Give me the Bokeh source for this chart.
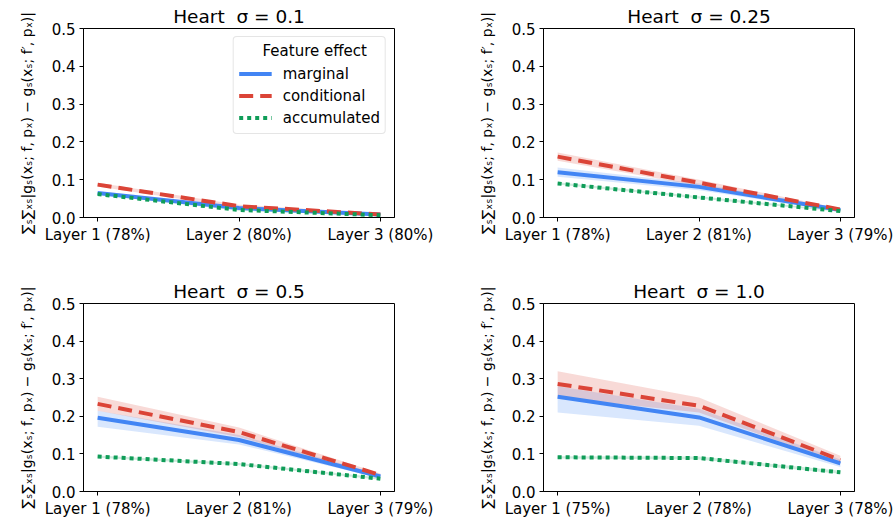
from bokeh.plotting import figure
from bokeh.layouts import column, row
from bokeh.models import Range1d, FixedTicker, Legend, LegendItem, NumeralTickFormatter
from bokeh.embed import file_html
from bokeh.resources import INLINE

sigmas = ["0.1", "0.25", "0.5", "1.0"]
layer_labels = [
    ["Layer 1 (78%)", "Layer 2 (80%)", "Layer 3 (80%)"],
    ["Layer 1 (78%)", "Layer 2 (81%)", "Layer 3 (79%)"],
    ["Layer 1 (78%)", "Layer 2 (81%)", "Layer 3 (79%)"],
    ["Layer 1 (75%)", "Layer 2 (78%)", "Layer 3 (78%)"],
]

marginal = [[0.065, 0.025, 0.008], [0.120, 0.081, 0.020], [0.196, 0.137, 0.040], [0.252, 0.197, 0.075]]
marginal_lo = [[0.062, 0.022, 0.006], [0.108, 0.072, 0.016], [0.172, 0.125, 0.035], [0.210, 0.175, 0.065]]
marginal_hi = [[0.068, 0.028, 0.010], [0.132, 0.090, 0.024], [0.215, 0.150, 0.045], [0.280, 0.220, 0.085]]

conditional = [[0.087, 0.030, 0.008], [0.161, 0.092, 0.021], [0.233, 0.158, 0.044], [0.286, 0.228, 0.084]]
conditional_lo = [[0.082, 0.026, 0.006], [0.150, 0.084, 0.018], [0.215, 0.145, 0.040], [0.250, 0.210, 0.075]]
conditional_hi = [[0.092, 0.034, 0.010], [0.172, 0.100, 0.024], [0.252, 0.170, 0.048], [0.320, 0.250, 0.095]]

accumulated = [[0.062, 0.020, 0.006], [0.090, 0.053, 0.017], [0.093, 0.073, 0.034], [0.091, 0.089, 0.051]]
accumulated_lo = [[0.060, 0.018, 0.005], [0.087, 0.050, 0.015], [0.090, 0.070, 0.031], [0.088, 0.085, 0.047]]
accumulated_hi = [[0.064, 0.022, 0.007], [0.093, 0.056, 0.019], [0.096, 0.076, 0.037], [0.094, 0.093, 0.055]]

y_ticks = [0.0, 0.1, 0.2, 0.3, 0.4, 0.5]
ylabel = "∑ₛ∑ₓₛ|gₛ(xₛ; f, pₓ) − gₛ(xₛ; f′, pₓ)|"
legend_title = "\u00a0\u00a0\u00a0\u00a0\u00a0Feature effect"

BLUE = "#4285F4"
RED = "#DB4437"
GREEN = "#0F9D58"
FONT = "DejaVu Sans"


def make(i):
    labels = layer_labels[i]
    xs = list(range(len(labels)))
    top_row = i < 2
    left_col = i % 2 == 0
    p = figure(
        frame_width=311,
        frame_height=189 if top_row else 188,
        x_range=Range1d(-0.1, len(labels) - 0.9),
        y_range=Range1d(0, 0.5),
        output_backend="svg",
        toolbar_location=None,
        min_border_left=83 if left_col else 96,
        min_border_right=53 if left_col else 40,
        min_border_top=28 if top_row else 40,
        min_border_bottom=46 if top_row else 30,
        title="Heart\u00a0\u00a0σ = " + sigmas[i],
    )
    p.title.align = "center"
    p.title.text_font = FONT
    p.title.text_font_size = "18.5px"
    p.title.text_font_style = "normal"
    p.title.text_color = "black"
    p.title.standoff = 3
    p.grid.visible = False
    p.outline_line_color = "black"
    p.outline_line_width = 1
    p.outline_line_alpha = 1

    for ax in (p.xaxis[0], p.yaxis[0]):
        ax.major_label_text_font = FONT
        ax.major_label_text_font_size = "15px"
        ax.major_label_text_color = "black"
        ax.axis_line_color = "black"
        ax.major_tick_line_color = "black"
        ax.major_tick_out = 4
        ax.major_tick_in = 0
        ax.minor_tick_line_color = None
        ax.major_label_standoff = 4
    p.xaxis.ticker = FixedTicker(ticks=xs)
    p.xaxis.major_label_overrides = {x: lab for x, lab in zip(xs, labels)}
    p.yaxis.ticker = FixedTicker(ticks=y_ticks)
    p.yaxis.formatter = NumeralTickFormatter(format="0.0")
    p.yaxis.axis_label = ylabel
    p.yaxis.axis_label_text_font = FONT
    p.yaxis.axis_label_text_font_size = "14px"
    p.yaxis.axis_label_text_font_style = "normal"
    p.yaxis.axis_label_text_color = "black"
    p.yaxis.axis_label_standoff = 14

    p.varea(x=xs, y1=marginal_lo[i], y2=marginal_hi[i], fill_color=BLUE, fill_alpha=0.2)
    p.varea(x=xs, y1=conditional_lo[i], y2=conditional_hi[i], fill_color=RED, fill_alpha=0.2)
    p.varea(x=xs, y1=accumulated_lo[i], y2=accumulated_hi[i], fill_color=GREEN, fill_alpha=0.2)

    r1 = p.line(xs, marginal[i], line_color=BLUE, line_width=4)
    r2 = p.line(xs, conditional[i], line_color=RED, line_width=4, line_dash="14 7")
    r3 = p.line(xs, accumulated[i], line_color=GREEN, line_width=4, line_dash="4 4")

    if i == 0:
        leg = Legend(
            items=[LegendItem(label="marginal", renderers=[r1]),
                   LegendItem(label="conditional", renderers=[r2]),
                   LegendItem(label="accumulated", renderers=[r3])],
            location="top_right",
            title=legend_title,
        )
        leg.margin = 8
        leg.padding = 5
        leg.spacing = 1
        leg.glyph_width = 33
        leg.glyph_height = 21
        leg.label_standoff = 11
        leg.label_text_font = FONT
        leg.label_text_font_size = "15px"
        leg.label_text_color = "black"
        leg.title_text_font = FONT
        leg.title_text_font_size = "15px"
        leg.title_text_font_style = "normal"
        leg.title_text_color = "black"
        leg.title_standoff = 3
        leg.border_line_color = "#cccccc"
        leg.border_radius = 4
        leg.background_fill_alpha = 0.8
        p.add_layout(leg, "center")
    return p


figs = [make(i) for i in range(4)]
layout = column(row(figs[0], figs[1]), row(figs[2], figs[3]))

open("out.html", "w").write(file_html(layout, INLINE))
